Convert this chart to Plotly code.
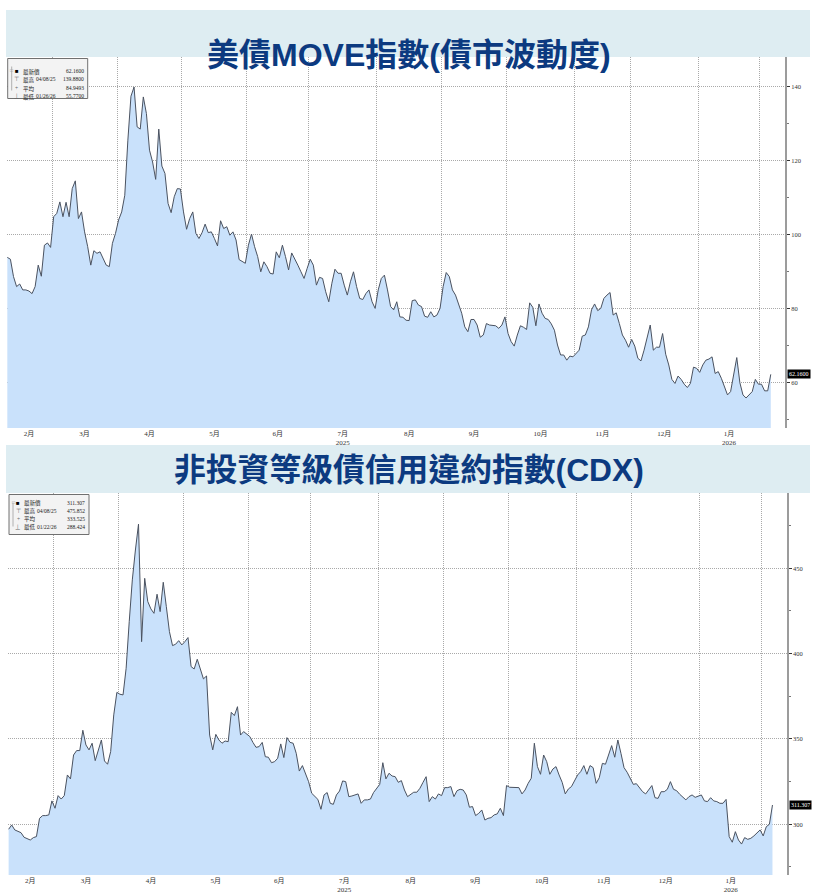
import plotly.graph_objects as go

W, H = 819, 895

# trading days per month shown on the axis (Feb-2025 partial ... Feb-2026 partial)
month_labels = ["2月", "3月", "4月", "5月", "6月", "7月", "8月", "9月", "10月", "11月", "12月", "1月", ""]
month_days = [15, 21, 21, 21, 20, 22, 21, 21, 22, 18, 22, 20, 4]
year_labels = {"7月": "2025", "1月": "2026"}

move_values = [
    93.8, 93.3, 88.6, 85.9, 86.6, 85.0, 85.0, 84.7, 84.0, 85.9, 91.7, 88.7, 97.1, 97.7, 96.5,
    104.8, 105.7, 108.8, 104.8, 108.7, 104.8, 112.4, 114.5, 104.3, 106.1, 100.7, 96.7, 91.7, 95.6,
    94.9, 95.3, 93.5, 91.7, 91.3, 97.6, 100.3,
    103.9, 106.1, 110.6, 125.5, 137.4, 139.88, 129.1, 128.5, 137.2, 132.7, 122.8, 119.6, 114.9,
    128.5, 118.5, 116.5, 108.4, 105.9, 110.2, 112.4, 112.3,
    106.1, 101.4, 104.3, 106.1, 100.3, 98.9, 100.5, 102.8, 100.5, 100.7, 98.9, 96.9, 103.7, 101.6,
    102.1, 99.8, 100.7, 98.5, 93.2, 92.6, 92.2,
    97.1, 100.1, 96.7, 94.0, 89.9, 92.6, 91.3, 89.5, 89.3, 95.3, 93.7, 97.1, 94.0, 90.4, 95.0,
    93.1, 91.7, 89.9, 88.1, 90.8,
    93.3, 91.7, 86.3, 88.4, 88.1, 84.5, 81.8, 86.8, 90.6, 89.5, 89.5, 86.3, 83.6, 87.2, 89.9,
    85.9, 82.7, 82.4, 84.0, 85.0, 81.8, 80.0,
    85.0, 88.1, 89.0, 85.0, 80.5, 79.6, 81.8, 77.7, 77.6, 76.8, 76.7, 82.1, 82.3, 80.9, 80.5,
    77.9, 77.6, 79.1, 77.7, 78.2, 80.0,
    85.9, 89.7, 88.6, 85.0, 83.6, 80.9, 78.7, 75.0, 73.7, 77.0, 77.0, 75.5, 72.2, 72.8, 75.9,
    75.5, 75.3, 75.3, 74.6, 75.5, 77.7,
    73.2, 71.0, 69.8, 72.8, 75.3, 74.9, 74.3, 81.5, 80.3, 75.3, 81.2, 78.7, 77.3, 77.0, 75.8,
    74.1, 70.1, 67.4, 67.4, 66.0, 67.1, 66.9,
    67.8, 68.7, 72.5, 72.8, 75.0, 79.6, 81.2, 79.4, 80.0, 82.7, 83.6, 84.3, 78.2, 78.8, 75.9,
    72.8, 71.4, 69.5,
    71.6, 69.8, 66.5, 65.8, 68.7, 72.3, 75.5, 68.7, 69.5, 69.5, 73.2, 67.6, 64.7, 60.8, 59.7,
    61.7, 60.8, 59.5, 58.6, 59.7, 64.1, 63.8,
    62.7, 64.7, 66.0, 66.3, 66.9, 62.4, 62.9, 61.1, 58.8, 56.6, 57.5, 62.0, 66.7, 59.9, 56.6,
    55.77, 56.6, 57.5, 60.8, 59.5,
    59.5, 57.7, 57.7, 62.16,
]

cdx_values = [
    297.1, 299.6, 296.7, 296.1, 295.1, 292.4, 291.8, 290.8, 292.2, 292.8, 303.5, 305.1, 305.1,
    305.5, 313.7,
    309.4, 316.8, 314.8, 316.8, 328.9, 326.6, 340.6, 343.2, 343.2, 355.1, 346.5, 343.6, 347.5,
    337.3, 343.6, 349.4, 337.1, 335.2, 342.6, 364.1, 377.3,
    376.2, 375.8, 391.4, 418.7, 443.2, 460.7, 475.852, 407.0, 444.1, 430.5, 426.2, 423.6, 434.8,
    424.6, 441.8, 427.5, 412.9, 404.7, 405.5, 407.6, 405.1,
    407.0, 409.4, 392.4, 391.0, 396.7, 391.4, 385.2, 386.9, 352.3, 343.6, 352.7, 349.4, 347.5,
    348.8, 348.4, 365.6, 363.7, 368.9, 352.3, 354.3, 352.7,
    351.4, 348.0, 345.1, 345.5, 348.0, 339.6, 339.3, 336.1, 336.7, 338.7, 347.1, 339.1, 350.8,
    348.0, 347.5, 341.6, 331.2, 334.4, 329.9, 325.0,
    318.2, 316.2, 314.6, 308.8, 317.2, 318.6, 312.3, 311.7, 317.2, 319.5, 325.4, 325.0, 316.2,
    316.6, 317.2, 317.8, 312.3, 314.3, 314.3, 314.8, 318.6, 321.1,
    323.4, 336.1, 326.6, 329.9, 328.3, 327.9, 324.6, 325.6, 320.1, 316.2, 317.6, 318.8, 318.8,
    321.1, 324.6, 327.9, 313.3, 316.2, 314.8, 317.8, 316.8,
    321.5, 321.5, 322.1, 316.2, 319.7, 320.5, 320.1, 317.2, 310.0, 310.4, 305.1, 306.4, 308.4,
    302.5, 303.5, 303.9, 305.5, 306.1, 309.4, 305.1, 322.7,
    321.7, 321.5, 321.5, 321.5, 317.8, 320.1, 324.0, 327.0, 347.5, 333.8, 329.3, 340.6, 336.7,
    329.3, 332.4, 333.8, 328.9, 324.6, 317.8, 320.7, 322.1, 326.0,
    328.9, 330.9, 334.4, 329.3, 334.4, 333.2, 324.0, 327.3, 335.7, 335.2, 340.6, 346.1, 339.3,
    349.4, 341.6, 333.2, 330.5, 327.0,
    323.4, 323.8, 321.1, 319.1, 317.8, 320.1, 322.7, 315.6, 315.2, 319.1, 319.1, 320.5, 325.0,
    320.5, 319.7, 317.6, 316.2, 314.3, 316.2, 317.2, 315.8, 316.6,
    317.2, 313.7, 313.3, 315.6, 313.7, 313.3, 312.3, 312.3, 314.6, 292.8, 289.5, 295.7, 290.8,
    288.424, 292.2, 291.2, 291.8, 293.2, 294.7, 296.7,
    293.2, 298.6, 300.0, 311.307,
]

move_legend = [("■", "最新價", "", "62.1600"), ("⊤", "最高", "04/08/25", "139.8800"),
               ("+", "平均", "", "84.9493"), ("⊥", "最低", "01/26/26", "55.7700")]
cdx_legend = [("■", "最新價", "", "311.307"), ("⊤", "最高", "04/08/25", "475.852"),
              ("+", "平均", "", "333.525"), ("⊥", "最低", "01/22/26", "288.424")]

TITLE_FONT = "Liberation Sans, Noto Sans CJK TC, sans-serif"
SMALL_FONT = "Liberation Serif, Noto Sans CJK TC, serif"
GRID = "#a9a9a9"
DOTS = "1px,1px"


def px(x):
    return x / W


def py(y):
    return 1 - y / H


# month centres for labels, month boundaries for the dotted grid
tick_pos, tick_txt, bounds = [], [], []
start = 0
for lab, n in zip(month_labels, month_days):
    if lab:
        tick_pos.append(start + (n - 1) / 2)
        tick_txt.append(lab + ("<br>" + year_labels[lab] if lab in year_labels else ""))
    if start > 0:
        bounds.append(start - 0.5)
    start += n

fig = go.Figure()


def note(x, y, text, anchor="left", size=5.5, color="#222222", **kw):
    fig.add_annotation(xref="paper", yref="paper", x=px(x), y=py(y), xanchor=anchor,
                       text=text, showarrow=False,
                       font=dict(family=SMALL_FONT, size=size, color=color), **kw)


def add_panel(i, values, legend, title, title_size, top, bottom, band_top, left, right,
              yrange, dtick, minor, last_txt):
    xa, ya = ("x", "y") if i == 1 else ("x2", "y2")
    fig.add_trace(go.Scatter(
        x=list(range(len(values))), y=values, mode="lines",
        line=dict(color="#4a5260", width=1), fill="tozeroy", fillcolor="#c9e1fb",
        xaxis=xa, yaxis=ya, showlegend=False, hoverinfo="y",
    ))
    xkey = "xaxis" if i == 1 else "xaxis2"
    ykey = "yaxis" if i == 1 else "yaxis2"
    fig.update_layout(**{
        xkey: dict(
            domain=[px(left), px(right)], anchor=ya, range=[-0.2, 251.6],
            tickvals=tick_pos, ticktext=tick_txt, showgrid=False, zeroline=False,
            tickfont=dict(size=7, color="#333333", family=SMALL_FONT), ticks="",
            minor=dict(tickvals=bounds, showgrid=True, gridcolor=GRID, griddash=DOTS,
                       gridwidth=1, ticks=""),
            showline=False, fixedrange=True,
        ),
        ykey: dict(
            domain=[py(bottom), py(top)], anchor=xa, side="right", range=yrange,
            dtick=dtick, showgrid=True, gridcolor=GRID, griddash=DOTS, gridwidth=1,
            zeroline=False, showline=True, linecolor="#9c9c9c", linewidth=2,
            ticks="outside", ticklen=3, tickcolor="#333333",
            minor=dict(dtick=minor, ticks="outside", ticklen=2, tickcolor="#777777"),
            tickfont=dict(size=6.5, color="#333333", family=SMALL_FONT), fixedrange=True,
        ),
    })

    # title band
    fig.add_shape(type="rect", xref="paper", yref="paper", x0=px(6), x1=px(810),
                  y0=py(top), y1=py(band_top), fillcolor="#deedf2", line_width=0,
                  layer="below")
    fig.add_annotation(xref="paper", yref="paper", x=px(409), y=py((band_top + top) / 2 + 1),
                       text="<b>" + title + "</b>", showarrow=False,
                       font=dict(family=TITLE_FONT, size=title_size, color="#0c3a80"))

    # last value tag on the axis
    fig.add_annotation(xref="paper", yref=ya, x=px(right + 2), y=values[-1], xanchor="left",
                       text=last_txt, showarrow=False, bgcolor="#000000",
                       font=dict(family=SMALL_FONT, size=6, color="#ffffff"),
                       borderpad=1)

    # statistics box
    bx0, by0 = left + 1, top + 1.5
    fig.add_shape(type="rect", xref="paper", yref="paper", x0=px(bx0), x1=px(bx0 + 80),
                  y0=py(by0 + 40), y1=py(by0), fillcolor="#f3f3f3",
                  line=dict(color="#707070", width=1))
    fig.add_shape(type="line", xref="paper", yref="paper", x0=px(bx0 + 4), x1=px(bx0 + 4),
                  y0=py(by0 + 8), y1=py(by0 + 32), line=dict(color="#b0b0b0", width=1))
    note(bx0 + 4, by0 + 8, "□", anchor="center", size=5, color="#999999")
    for k, (sym, name, date, val) in enumerate(legend):
        yy = by0 + 8 + k * 8
        note(bx0 + 9, yy, sym, anchor="center", size=6 if k == 0 else 5.5,
             color="#000000" if k == 0 else "#666666")
        note(bx0 + 13, yy, name)
        if date:
            note(bx0 + 26, yy, date)
        note(bx0 + 78, yy, val, anchor="right")


add_panel(1, move_values, move_legend, "美債MOVE指數(債市波動度)", 32, 57, 428, 10, 6.7, 785,
          [47.65, 148.0], 20, 10, "62.1600")
add_panel(2, cdx_values, cdx_legend, "非投資等級債信用違約指數(CDX)", 31.8, 493, 875, 445, 8.0, 786.7,
          [270.3, 494.1], 50, 25, "311.307")

fig.update_layout(
    width=W, height=H, margin=dict(l=0, r=0, t=0, b=0),
    paper_bgcolor="#ffffff", plot_bgcolor="#ffffff",
    showlegend=False,
)

fig.write_html("out.html", config={"displayModeBar": False},
               post_script="document.body.style.margin='0';document.body.style.overflow='hidden';")
